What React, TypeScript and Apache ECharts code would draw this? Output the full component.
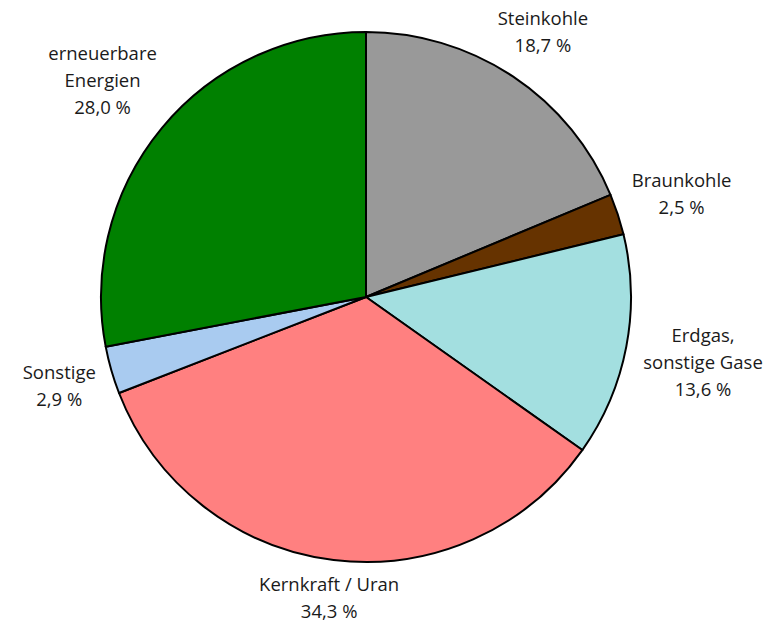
import React, { useEffect, useRef } from "react";
import * as echarts from "echarts";

const categories = [
  "Steinkohle",
  "Braunkohle",
  "Erdgas,\nsonstige Gase",
  "Kernkraft / Uran",
  "Sonstige",
  "erneuerbare\nEnergien",
];
const values = [18.7, 2.5, 13.6, 34.3, 2.9, 28.0];
const colors = ["#999999", "#663300", "#a3dfe0", "#ff8080", "#a9cbf0", "#008000"];

const CX = 366;
const CY = 297;
const R = 265;
const GAP_X = 12;
const GAP_Y = 0;

export default function App() {
  const ref = useRef<HTMLDivElement>(null);
  useEffect(() => {
    if (!ref.current) return;
    const chart = echarts.init(ref.current, undefined, { renderer: "svg" });
    const total = values.reduce((a, b) => a + b, 0);
    const mids: number[] = [];
    let acc = 0;
    for (const v of values) {
      mids.push(((acc + v / 2) / total) * Math.PI * 2);
      acc += v;
    }
    chart.setOption({
      animation: false,
      backgroundColor: "#ffffff",
      series: [
        {
          type: "pie",
          center: [CX, CY],
          radius: [0, R],
          startAngle: 90,
          clockwise: true,
          avoidLabelOverlap: false,
          data: categories.map((name, i) => ({
            name,
            value: values[i],
            itemStyle: { color: colors[i] },
          })),
          itemStyle: { borderColor: "#000000", borderWidth: 2 },
          label: {
            show: true,
            position: "outside",
            formatter: (p: any) =>
              `${p.name}\n${p.value.toFixed(1).replace(".", ",")} %`,
            fontFamily: "Open Sans",
            fontSize: 18.5,
            lineHeight: 27,
            color: "#1a1a1a",
            align: "center",
          },
          labelLine: { show: false },
          labelLayout: (params: any) => {
            const a = mids[params.dataIndex];
            const s = Math.sin(a);
            const c = Math.cos(a);
            const w = params.labelRect.width;
            const h = params.labelRect.height;
            const gap = GAP_X * Math.abs(s) + GAP_Y * Math.abs(c);
            const dist = R + gap + (Math.abs(s) * w) / 2 + (Math.abs(c) * h) / 2;
            return {
              x: CX + s * dist,
              y: CY - c * dist,
              align: "center",
              verticalAlign: "middle",
            };
          },
          emphasis: { disabled: true },
        },
      ],
    });
    return () => chart.dispose();
  }, []);
  return (
    <div
      ref={ref}
      style={{ position: "absolute", left: 0, top: 0, width: 765, height: 625 }}
    />
  );
}
